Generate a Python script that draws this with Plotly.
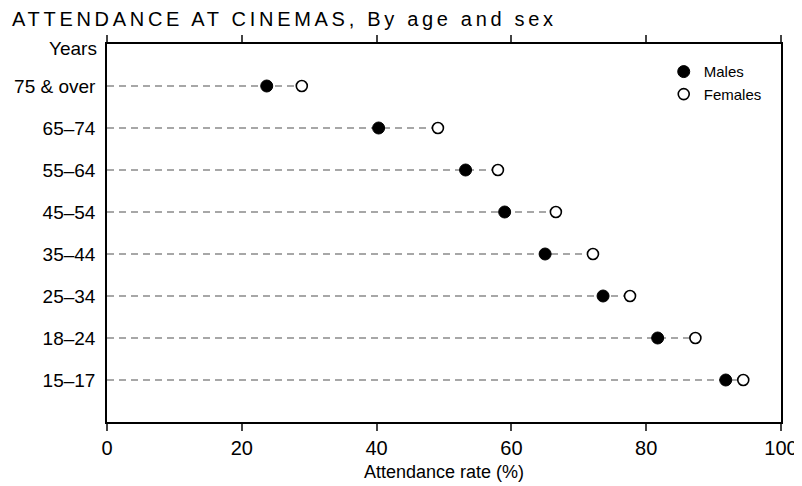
import plotly.graph_objects as go

age_groups = ["15–17", "18–24", "25–34", "35–44", "45–54", "55–64", "65–74", "75 & over"]
males = [91.8, 81.7, 73.6, 65.0, 59.0, 53.2, 40.3, 23.7]
females = [94.4, 87.3, 77.6, 72.1, 66.6, 58.0, 49.1, 28.9]
x_ticks = [0, 20, 40, 60, 80, 100]

ypos = list(range(1, len(age_groups) + 1))

line_x, line_y = [], []
for y, f in zip(ypos, females):
    line_x += [0, f, None]
    line_y += [y, y, None]

fig = go.Figure()
fig.add_trace(go.Scatter(x=line_x, y=line_y, mode="lines",
                         line=dict(color="#8a8a8a", width=1.6, dash="7px,5px"),
                         showlegend=False, hoverinfo="skip"))
fig.add_trace(go.Scatter(x=females, y=ypos, mode="markers", name="Females",
                         marker=dict(size=11, color="white", line=dict(color="black", width=1.6))))
fig.add_trace(go.Scatter(x=males, y=ypos, mode="markers", name="Males",
                         marker=dict(size=12, color="black", line=dict(color="black", width=1))))

font_family = "Liberation Sans, Arial, sans-serif"
W, H = 794, 478
fig.update_layout(
    template="none",
    width=W, height=H,
    margin=dict(l=99, r=21, t=36, b=64, autoexpand=False),
    paper_bgcolor="white", plot_bgcolor="white",
    font=dict(family=font_family, size=19, color="black"),
    title=dict(text='<span style="letter-spacing:3.7px">ATTENDANCE AT CINEMAS, By age and sex</span>',
               x=4 / W, xanchor="left", y=1 - 11 / H, yanchor="middle",
               font=dict(family=font_family, size=20, color="black")),
    legend=dict(x=0.826, y=0.97, xanchor="left", yanchor="top", traceorder="reversed",
                bgcolor="rgba(0,0,0,0)", font=dict(size=15), itemwidth=30,
                tracegroupgap=0),
    xaxis=dict(range=[0, 100], tickvals=x_ticks, ticks="outside", ticklen=7, tickwidth=1.5,
               showline=True, linecolor="black", linewidth=1.5, mirror="ticks",
               showgrid=False, zeroline=False, automargin=False,
               title=dict(text="Attendance rate (%)", font=dict(size=18), standoff=8),
               tickfont=dict(size=20)),
    yaxis=dict(range=[0, 9], tickvals=ypos, ticktext=age_groups,
               ticks="", showline=True, linecolor="black", linewidth=1.5, mirror=True,
               showgrid=False, zeroline=False, automargin=False, ticklabelstandoff=6,
               tickfont=dict(size=19)),
    annotations=[dict(text="Years", x=0, xref="paper", xanchor="right", xshift=-8,
                      y=9, yref="y", yanchor="middle", yshift=-4, showarrow=False,
                      font=dict(size=19))],
)

fig.write_html("out.html")
